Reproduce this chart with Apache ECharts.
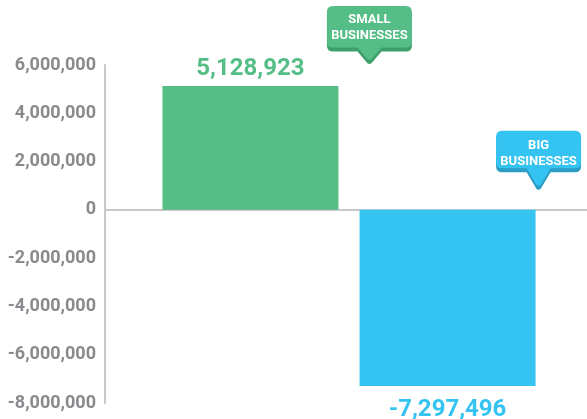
<!DOCTYPE html>
<html>
<head>
<meta charset="utf-8">
<script src="https://cdn.jsdelivr.net/npm/echarts@6/dist/echarts.min.js"></script>
<style>
  html, body { margin: 0; padding: 0; background: #fff; }
  #chart { width: 587px; height: 419px; }
</style>
</head>
<body>
<div id="chart"></div>
<script>
const categories = [''];
const smallValues = [5128923];
const bigValues = [-7297496];
const seriesNames = ['SMALL\nBUSINESSES', 'BIG\nBUSINESSES'];
const yTicks = { min: -8000000, max: 6000000, step: 2000000 };

const FONT = "Roboto, 'Liberation Sans', sans-serif";
const GREEN = '#55be87';
const GREEN_DARK = '#3f9f6b';
const BLUE = '#35c4f1';
const BLUE_DARK = '#2a9dc4';

// speech bubble: rounded body with a pointer at the bottom centre
function bubblePath(w, bodyH, tipH) {
  const r = 6, c = w / 2;
  return 'path://M' + r + ' 0 H' + (w - r) + ' Q' + w + ' 0 ' + w + ' ' + r +
    ' V' + (bodyH - r) + ' Q' + w + ' ' + bodyH + ' ' + (w - r) + ' ' + bodyH +
    ' H' + (c + 12) + ' L' + (c + 2) + ' ' + (tipH - 1.5) + ' Q' + c + ' ' + tipH + ' ' + (c - 2) + ' ' + (tipH - 1.5) +
    ' L' + (c - 12) + ' ' + bodyH + ' H' + r + ' Q0 ' + bodyH + ' 0 ' + (bodyH - r) +
    ' V' + r + ' Q0 0 ' + r + ' 0 Z';
}

function bubble(name, coord, color, dark, bodyH, tipH, offset) {
  return {
    symbol: bubblePath(85, bodyH, tipH),
    symbolSize: [85, tipH],
    symbolKeepAspect: false,
    symbolOffset: offset,
    itemStyle: { color: color, shadowColor: dark, shadowOffsetY: 4, shadowBlur: 0 },
    label: {
      show: true,
      formatter: name,
      color: '#fff',
      fontFamily: FONT,
      fontWeight: 'bold',
      fontSize: 13,
      lineHeight: 16,
      offset: [0, -5]
    },
    coord: coord
  };
}

const chart = echarts.init(document.getElementById('chart'));
chart.setOption({
  animation: false,
  grid: { left: 105, right: -6, top: 65, bottom: 16, containLabel: false, outerBoundsMode: 'none' },
  xAxis: {
    type: 'category',
    data: categories,
    axisLine: { onZero: true, lineStyle: { color: '#c8c8c8', width: 2 } },
    axisTick: { show: false },
    axisLabel: { show: false }
  },
  yAxis: {
    type: 'value',
    min: yTicks.min,
    max: yTicks.max,
    interval: yTicks.step,
    axisLine: { show: true, lineStyle: { color: '#c8c8c8', width: 2 } },
    axisTick: { show: false },
    splitLine: { show: false },
    axisLabel: {
      margin: 9,
      color: '#8a8a8e',
      fontFamily: FONT,
      fontWeight: 'bold',
      fontSize: 18,
      formatter: v => v.toLocaleString('en-US')
    }
  },
  series: [
    {
      name: seriesNames[0],
      type: 'bar',
      data: smallValues,
      barWidth: 176,
      barGap: '12%',
      itemStyle: { color: GREEN },
      label: {
        show: true,
        position: 'top',
        distance: 5,
        color: GREEN,
        fontFamily: FONT,
        fontWeight: 'bold',
        fontSize: 24,
        formatter: p => p.value.toLocaleString('en-US')
      },
      markPoint: {
        silent: true,
        data: [bubble(seriesNames[0], [0, smallValues[0]], GREEN, GREEN_DARK, 41, 54, [119, -53])]
      }
    },
    {
      name: seriesNames[1],
      type: 'bar',
      data: bigValues,
      barWidth: 176,
      barGap: '12%',
      itemStyle: { color: BLUE },
      label: {
        show: true,
        position: 'bottom',
        distance: 12,
        color: BLUE,
        fontFamily: FONT,
        fontWeight: 'bold',
        fontSize: 24,
        formatter: p => p.value.toLocaleString('en-US')
      },
      markPoint: {
        silent: true,
        data: [bubble(seriesNames[1], [0, 0], BLUE, BLUE_DARK, 37, 55, [91, -51.5])]
      }
    }
  ]
});
</script>
</body>
</html>
